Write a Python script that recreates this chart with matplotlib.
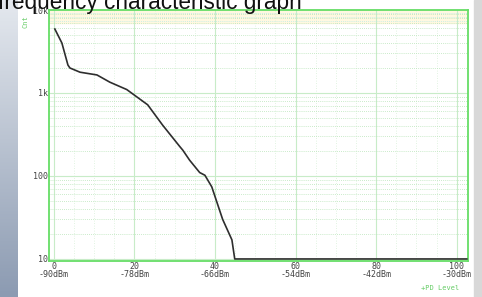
import numpy as np
import matplotlib.pyplot as plt
from matplotlib.patches import Rectangle

# curve (x in scale units 0..100, y in counts)
x_vals = [0.25, 2.0, 3.5, 4.0, 6.5, 10.7, 13.9, 18.1, 23.3, 27.0, 31.3, 32.0,
          33.7, 36.2, 37.5, 39.2, 41.9, 44.2, 44.9, 102.5]
y_vals = [5900, 4000, 2170, 2000, 1780, 1650, 1350, 1100, 720, 410, 225, 205,
          155, 110, 102, 74, 30, 17, 10, 10]

x_ticks = [0, 20, 40, 60, 80, 100]
x_dbm = ['-90dBm', '-78dBm', '-66dBm', '-54dBm', '-42dBm', '-30dBm']
y_ticks = [10, 100, 1000, 10000]
y_labels = ['10', '100', '1k', '10k']

fig = plt.figure(figsize=(4.82, 2.97), dpi=100)
fig.patch.set_facecolor('white')

# slide background strips
grad = np.linspace(0, 1, 100).reshape(-1, 1)
bg = fig.add_axes([0, 0, 18 / 482, 1])
bg.imshow(grad, aspect='auto', cmap=plt.matplotlib.colors.LinearSegmentedColormap.from_list(
    'g', ['#e4e8ee', '#8c9bb2']), extent=[0, 1, 0, 1])
bg.axis('off')
fig.patches.append(Rectangle((474 / 482, 0), 8 / 482, 1, transform=fig.transFigure,
                             color='#d8d8d8', zorder=0))

ax = fig.add_axes([49 / 482, 36 / 297, 419 / 482, 251 / 297])
ax.set_yscale('log')
ax.set_xlim(-1.2, 102.8)
ax.set_ylim(9.45, 10000)

# grid
for xv in range(0, 101, 20):
    ax.axvline(xv, color='#c8ecc8', lw=0.8, zorder=1)
for xv in range(0, 101, 5):
    if xv % 20:
        ax.axvline(xv, color='#d8f0d8', lw=0.6, ls=(0, (1, 2)), zorder=1)
for dec in [10, 100, 1000]:
    for m in range(2, 10):
        ax.axhline(dec * m, color='#b8e4b8', lw=0.6, ls=(0, (1, 1.5)), zorder=1)
    ax.axhline(dec, color='#c8ecc8', lw=0.8, zorder=1)
ax.axhspan(7000, 10000, color='#fff8e0', zorder=0)
for yv in [7400, 8200, 9100]:
    ax.axhline(yv, color='#b8eaea', lw=0.6, ls=(0, (1, 1.5)), zorder=1)

ax.plot(x_vals, y_vals, color='#2e2e2e', lw=1.2, zorder=3)

for s in ax.spines.values():
    s.set_color('#66dd66')
    s.set_linewidth(1.3)

ax.set_xticks(x_ticks)
ax.set_xticklabels([f'{t}\n{d}' for t, d in zip(x_ticks, x_dbm)],
                   family='DejaVu Sans Mono', fontsize=6, color='#444444', linespacing=0.8)
ax.set_yticks(y_ticks)
ax.set_yticklabels(y_labels, family='DejaVu Sans Mono', fontsize=6, color='#444444')
ax.yaxis.set_minor_locator(plt.NullLocator())
ax.tick_params(length=0, pad=1)

fig.text(25 / 482, 1 - 22 / 297, 'Cnt', color='#66cc66', fontsize=5, rotation=90,
         ha='center', va='center', family='DejaVu Sans Mono')
fig.text(440 / 482, 1 - 288 / 297, '+PD Level', color='#66cc66', fontsize=5,
         ha='center', va='center', family='DejaVu Sans Mono')
fig.text(-2 / 482, 1 - 9 / 297, 'frequency characteristic graph', fontsize=16.3,
         family='Liberation Sans', color='#111111', ha='left', va='baseline')

fig.savefig('out.png', dpi=100)
